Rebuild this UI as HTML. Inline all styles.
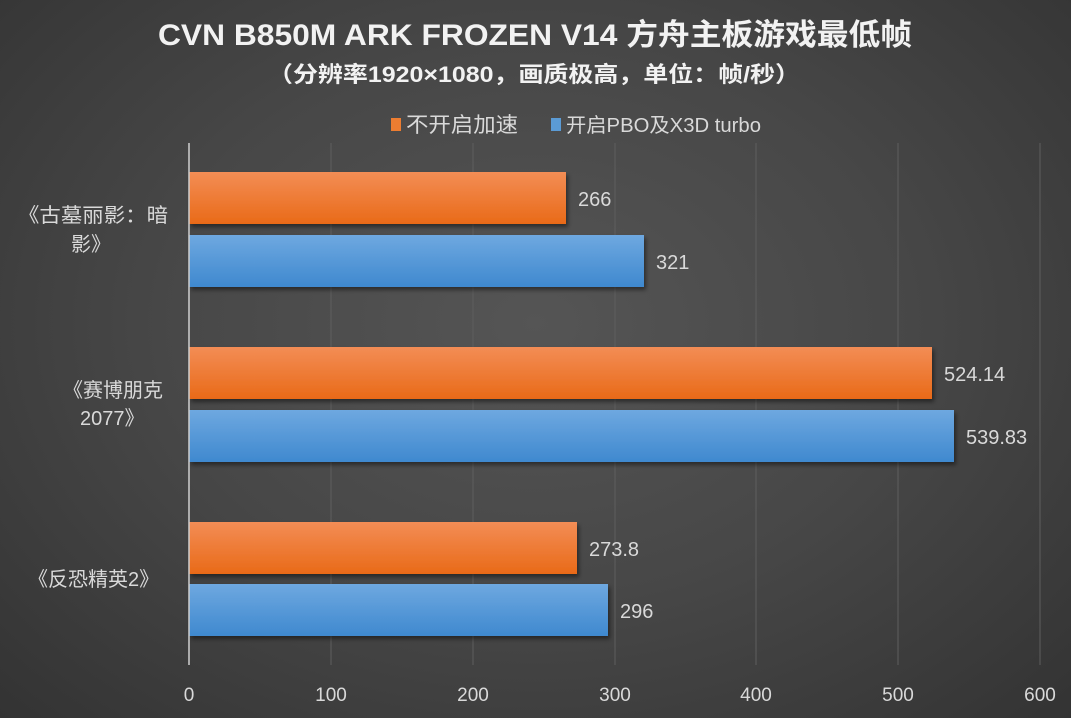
<!DOCTYPE html>
<html><head><meta charset="utf-8"><style>
html,body{margin:0;padding:0;}
body{width:1071px;height:718px;overflow:hidden;background:radial-gradient(ellipse at 50% 45%,#555 0%,#474747 50%,#333 100%);}
svg{display:block;font-family:"Liberation Sans","Noto Sans CJK SC",sans-serif;}
</style></head><body>
<svg width="1071" height="718" viewBox="0 0 1071 718">
<defs>
<linearGradient id="o" x1="0" y1="0" x2="0" y2="1"><stop offset="0" stop-color="#f38d55"/><stop offset="1" stop-color="#e96a18"/></linearGradient>
<linearGradient id="b" x1="0" y1="0" x2="0" y2="1"><stop offset="0" stop-color="#6ea8e0"/><stop offset="1" stop-color="#3f89cf"/></linearGradient>
<filter id="s" x="-5%" y="-20%" width="110%" height="150%"><feDropShadow dx="2" dy="3" stdDeviation="2" flood-color="#000" flood-opacity="0.45"/></filter>
</defs>
<text x="158" y="45" textLength="754" lengthAdjust="spacingAndGlyphs" fill="#f2f2f2" font-size="30" font-weight="bold">CVN B850M ARK FROZEN V14 方舟主板游戏最低帧</text>
<text x="268" y="82" textLength="532" lengthAdjust="spacingAndGlyphs" fill="#f2f2f2" font-size="22" font-weight="bold">（分辨率1920×1080，画质极高，单位：帧/秒）</text>
<rect x="391" y="118" width="10" height="13" fill="#ed7d31"/>
<text x="406" y="132" textLength="112" lengthAdjust="spacingAndGlyphs" fill="#d9d9d9" font-size="21">不开启加速</text>
<rect x="551" y="118" width="10" height="13" fill="#5b9bd5"/>
<text x="566" y="132" textLength="195" lengthAdjust="spacingAndGlyphs" fill="#d9d9d9" font-size="20">开启PBO及X3D turbo</text>
<g stroke="#5e5e5e" stroke-width="1">
<line x1="331" y1="143" x2="331" y2="665"/><line x1="473" y1="143" x2="473" y2="665"/>
<line x1="615" y1="143" x2="615" y2="665"/><line x1="756" y1="143" x2="756" y2="665"/>
<line x1="898" y1="143" x2="898" y2="665"/><line x1="1040" y1="143" x2="1040" y2="665"/>
</g>
<g filter="url(#s)">
<rect x="189" y="172" width="377" height="52" fill="url(#o)"/>
<rect x="189" y="235" width="455" height="52" fill="url(#b)"/>
<rect x="189" y="347" width="743" height="52" fill="url(#o)"/>
<rect x="189" y="410" width="765" height="52" fill="url(#b)"/>
<rect x="189" y="522" width="388" height="52" fill="url(#o)"/>
<rect x="189" y="584" width="419" height="52" fill="url(#b)"/>
</g>
<line x1="189" y1="143" x2="189" y2="665" stroke="#d0d0d0" stroke-width="1.5"/>
<g fill="#d9d9d9" font-size="20">
<text x="578" y="206">266</text>
<text x="656" y="269">321</text>
<text x="944" y="381">524.14</text>
<text x="966" y="444">539.83</text>
<text x="589" y="556">273.8</text>
<text x="620" y="618">296</text>
</g>
<g fill="#d9d9d9" font-size="20">
<text x="18" y="222" textLength="150" lengthAdjust="spacingAndGlyphs">《古墓丽影：暗</text>
<text x="71" y="251">影》</text>
<text x="63" y="397">《赛博朋克</text>
<text x="80" y="425">2077》</text>
<text x="28" y="586">《反恐精英2》</text>
</g>
<g fill="#d9d9d9" font-size="19" text-anchor="middle">
<text x="189" y="701">0</text><text x="331" y="701">100</text><text x="473" y="701">200</text>
<text x="615" y="701">300</text><text x="756" y="701">400</text><text x="898" y="701">500</text><text x="1040" y="701">600</text>
</g>
</svg>
</body></html>
